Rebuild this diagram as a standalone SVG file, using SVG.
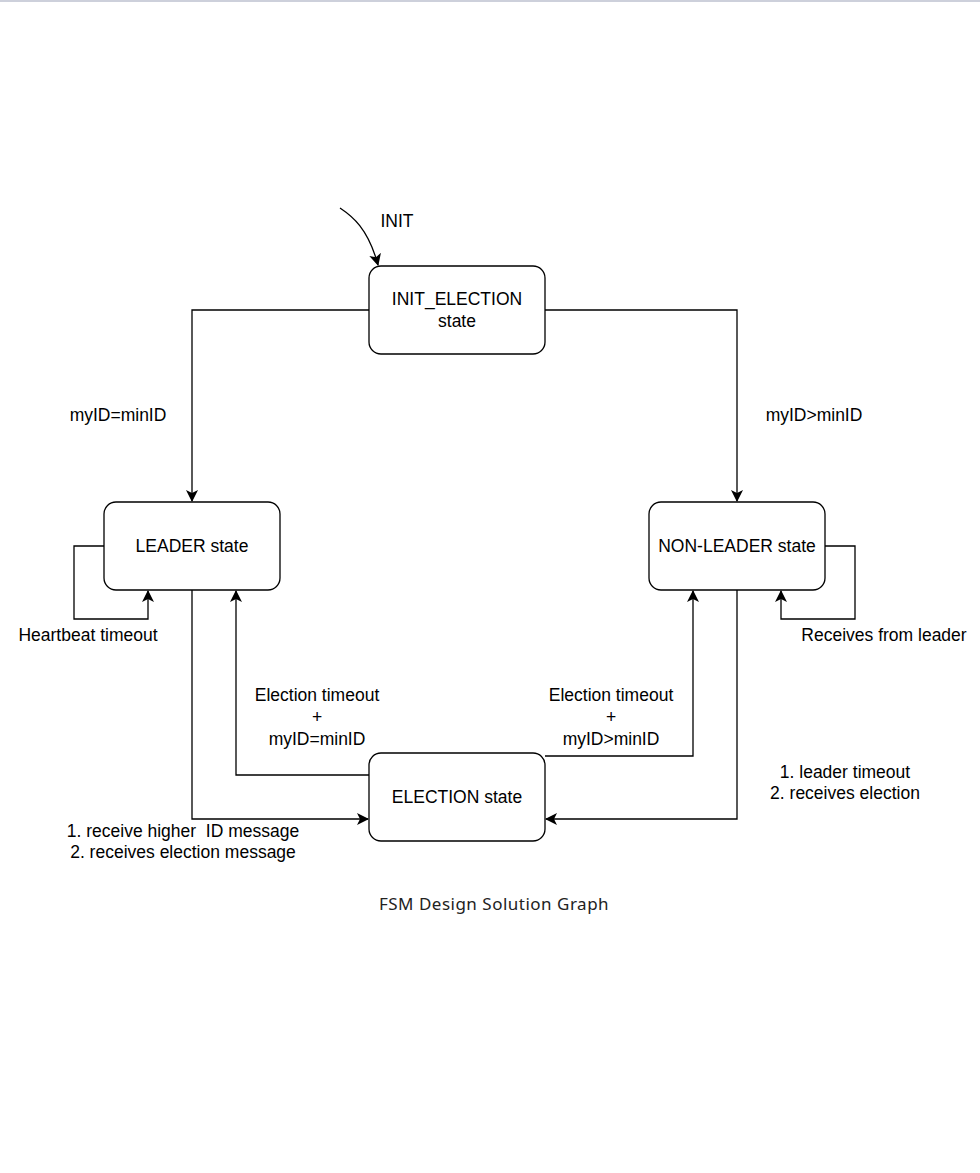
<svg xmlns="http://www.w3.org/2000/svg" width="980" height="1173" viewBox="0 0 980 1173">
<style>
.box{fill:#fff;stroke:#000;stroke-width:1.3}
.t{font-family:"Liberation Sans",Arial,sans-serif;font-size:17.5px;fill:#000;text-anchor:middle}
.e{fill:none;stroke:#000;stroke-width:1.3}
.cap{font-family:"Noto Sans","Open Sans",sans-serif;font-size:17px;letter-spacing:0.5px;fill:#222;text-anchor:middle}
</style>
<defs>
<marker id="a" viewBox="0 0 12 12" refX="11" refY="6" markerWidth="12" markerHeight="12" markerUnits="userSpaceOnUse" orient="auto">
<path d="M0,0 L12,6 L0,12 L3,6 Z" fill="#000"/>
</marker>
</defs>
<rect x="0" y="0" width="980" height="2" fill="#cdd0db"/>
<g id="connectors">
<path class="e" d="M340,208 C352,216 368,228 378,265" marker-end="url(#a)"/>
<path class="e" d="M369,310 H192 V501" marker-end="url(#a)"/>
<path class="e" d="M545,310 H737 V501" marker-end="url(#a)"/>
<path class="e" d="M104,546 H74 V619 H148 V591" marker-end="url(#a)"/>
<path class="e" d="M825,546 H855 V619 H781 V591" marker-end="url(#a)"/>
<path class="e" d="M192,590 V819 H368" marker-end="url(#a)"/>
<path class="e" d="M369,775 H236 V591" marker-end="url(#a)"/>
<path class="e" d="M545,756 H693 V591" marker-end="url(#a)"/>
<path class="e" d="M737,590 V819 H546" marker-end="url(#a)"/>
</g>
<g id="init_election"><rect class="box" x="369" y="266" width="176" height="88" rx="12"/><text class="t" x="457" y="305">INIT_ELECTION</text><text class="t" x="457" y="327">state</text></g>
<g id="leader"><rect class="box" x="104" y="502" width="176" height="88" rx="12"/><text class="t" x="192" y="552">LEADER state</text></g>
<g id="nonleader"><rect class="box" x="649" y="502" width="176" height="88" rx="12"/><text class="t" x="737" y="552">NON-LEADER state</text></g>
<g id="election"><rect class="box" x="369" y="753" width="176" height="88" rx="12"/><text class="t" x="457" y="803">ELECTION state</text></g>
<g id="labels">
<text class="t" x="397" y="227">INIT</text>
<text class="t" x="118" y="421">myID=minID</text>
<text class="t" x="814" y="421">myID&gt;minID</text>
<text class="t" x="88" y="641">Heartbeat timeout</text>
<text class="t" x="884" y="641">Receives from leader</text>
<text class="t" x="317" y="701">Election timeout</text>
<text class="t" x="317" y="723">+</text>
<text class="t" x="317" y="745">myID=minID</text>
<text class="t" x="611" y="701">Election timeout</text>
<text class="t" x="611" y="723">+</text>
<text class="t" x="611" y="745">myID&gt;minID</text>
<text class="t" x="845" y="778">1. leader timeout</text>
<text class="t" x="845" y="799">2. receives election</text>
<text class="t" x="183" y="837" xml:space="preserve">1. receive higher  ID message</text>
<text class="t" x="183" y="858">2. receives election message</text>
</g>
<text class="cap" x="494" y="910">FSM Design Solution Graph</text>
</svg>
